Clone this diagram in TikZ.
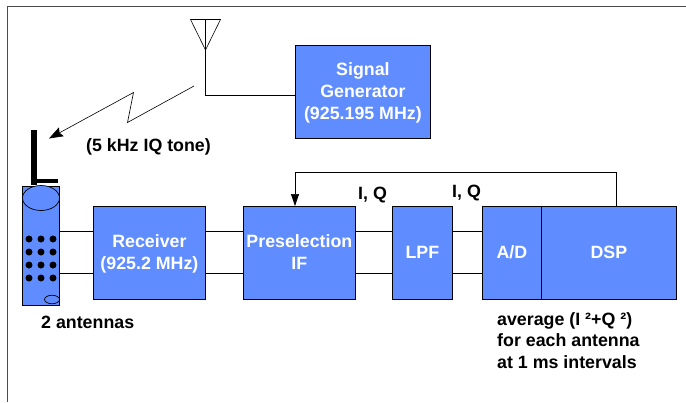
\documentclass[tikz,border=0pt]{standalone}
\usepackage{fontspec}
\setmainfont{Liberation Sans}
\usetikzlibrary{shapes.geometric,arrows.meta}
\definecolor{boxblue}{RGB}{95,140,255}
\newcommand{\blktext}[1]{\raisebox{-1.5pt}[\height][\depth]{\begin{tabular}{@{}c@{}}#1\end{tabular}}}
\tikzset{
  x=1pt,y=-1pt,
  blockbox/.style={draw=black,fill=boxblue,line width=0.8pt,minimum width=#1,inner sep=0pt,minimum height=93pt,anchor=north west,text=white,font=\fontsize{17.8}{22}\selectfont\bfseries},
  wire/.style={draw=black,line width=0.7pt},
  lab/.style={font=\fontsize{17.8}{22}\selectfont\bfseries,inner sep=0pt,align=left,anchor=west},
  dotk/.style={circle,fill=black,inner sep=0pt,minimum size=7pt}
}
\begin{document}
\begin{tikzpicture}
\useasboundingbox (0,0) rectangle (686,402);
\draw[line width=0.8pt,draw=black!70] (7.5,402) -- (7.5,6) -- (686,6);
% phone
\node[draw=black,fill=boxblue,line width=0.7pt,minimum width=37pt,minimum height=119pt,inner sep=0pt,anchor=north west] (phone) at (22,185.5) {};
\draw[fill=black,draw=none] (30.5,130) rectangle (36.5,185);
\draw[fill=black,draw=none] (36,178.5) rectangle (58,183);
\node[draw=black,fill=boxblue,ellipse,minimum width=37pt,minimum height=25pt,inner sep=0pt,line width=0.7pt] (ear) at (41,198) {};
\node[draw=black,fill=boxblue,ellipse,minimum width=15pt,minimum height=8.5pt,inner sep=0pt,line width=0.7pt] (btn) at (52,299.5) {};
\foreach \r/\y in {a/239,b/252,c/265,d/278}{
  \foreach \c/\x in {a/29,b/41,c/53}{
    \node[dotk] (d\r\c) at (\x,\y) {};
  }
}
% blocks
\node[blockbox=112pt] (rx) at (93,206) {\blktext{Receiver\\(925.2 MHz)}};
\node[blockbox=112pt] (pre) at (243,206) {\blktext{Preselection\\IF}};
\node[blockbox=60pt] (lpf) at (392,206) {\blktext{LPF}};
\node[blockbox=59pt] (ad) at (482,206) {\blktext{A/D}};
\node[blockbox=135pt] (dsp) at (541,206) {\blktext{DSP}};
\node[blockbox=135pt] (sg) at (295,45) {\blktext{Signal\\Generator\\(925.195 MHz)}};
% parallel wires
\foreach \a/\b in {phone/rx,rx/pre,pre/lpf,lpf/ad}{
  \draw[wire] (\a.east |- 0,231.5) -- (\b.west |- 0,231.5);
  \draw[wire] (\a.east |- 0,273.5) -- (\b.west |- 0,273.5);
}
% feedback
\coordinate (fbtop) at (616,172.5);
\coordinate (fbl) at (295,172.5);
\draw[wire,-{Stealth[length=12pt,width=8pt,inset=0pt]}] (dsp.north -| fbtop) -- (fbtop) -- (fbl) -- (pre.north -| fbl);
% transmit antenna
\coordinate (ta) at (205.5,19.5);
\coordinate (tb) at (220.5,19.5);
\coordinate (tc) at (190.5,19.5);
\coordinate (tf) at (205.5,50);
\draw[line width=0.6pt] (tc) -- (tb) -- (tf) -- cycle;
\draw[line width=0.6pt] (ta) -- (tf);
\draw[wire] (tf) -- (205.5,95.5) -- (sg.west |- 0,95.5);
% zigzag
\coordinate (zs) at (194,86);
\coordinate (zb) at (127.5,122.5);
\coordinate (zc) at (133.5,92.5);
\coordinate (ze) at (49,138.5);
\draw[line width=0.6pt,-{Stealth[length=14pt,width=10pt,inset=2pt]}] (zs) -- (zb) -- (zc) -- (ze);
% labels
\node[lab] (tone) at (86,146.5) {(5 kHz IQ tone)};
\node[lab] (ant) at (41,322.5) {2 antennas};
\node[lab] (iq1) at (358,195) {I, Q};
\node[lab] (iq2) at (452,193) {I, Q};
\node[lab,font=\fontsize{17.8}{21.5}\selectfont\bfseries,anchor=north west] (avg) at (497,312) {average (I ²+Q ²)\\for each antenna\\at 1 ms intervals};
\end{tikzpicture}
\end{document}
